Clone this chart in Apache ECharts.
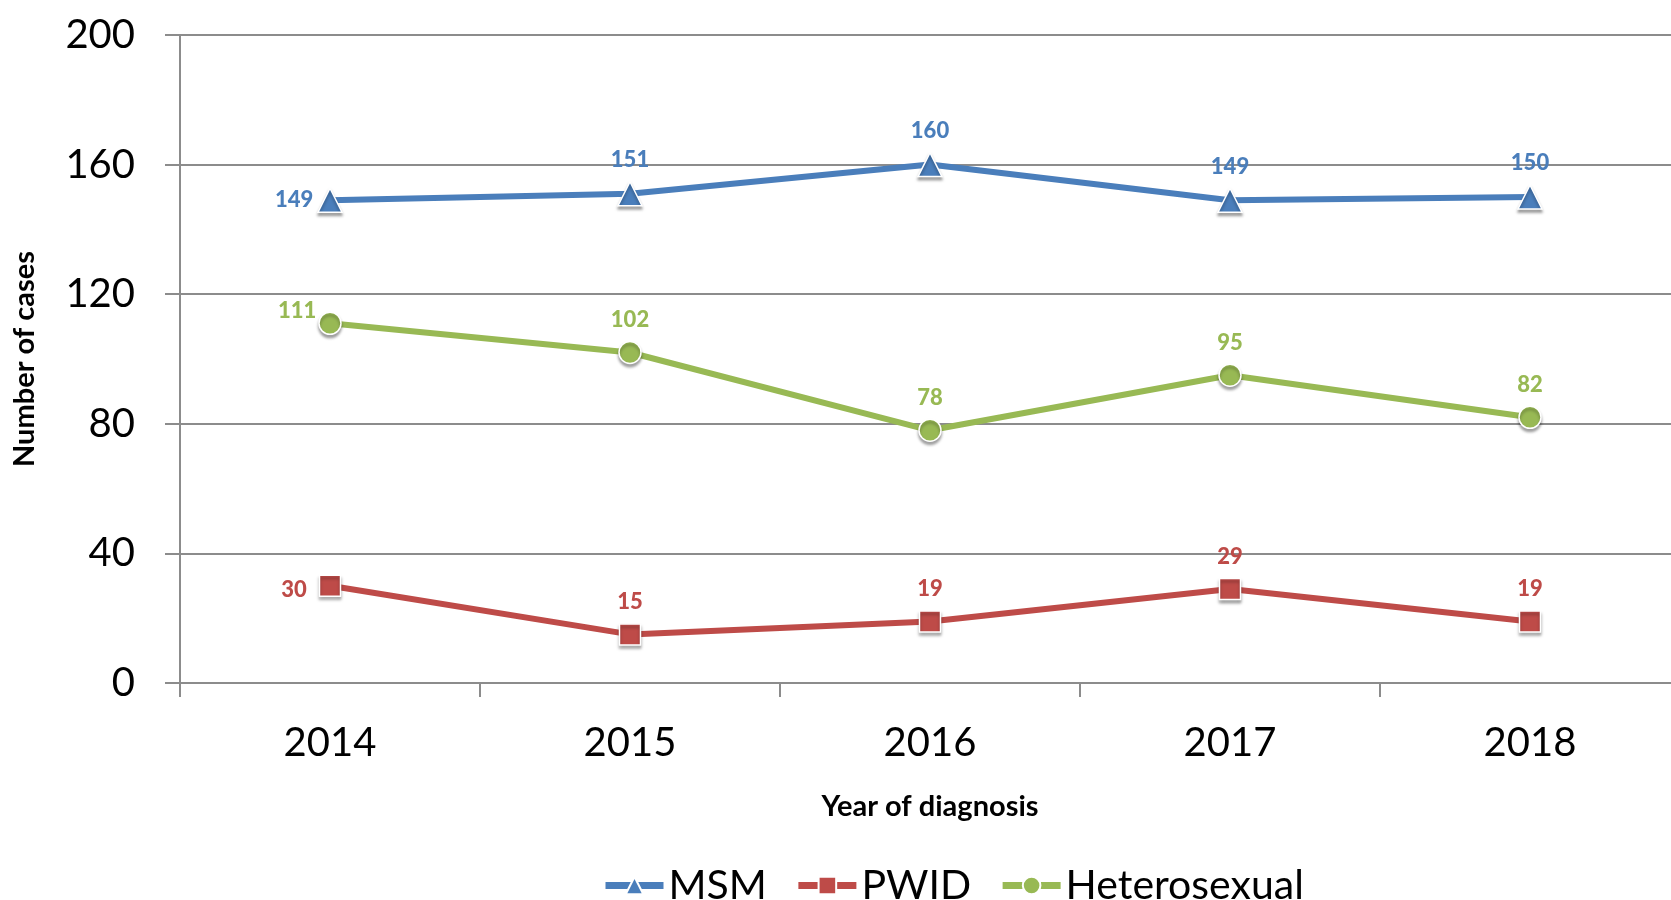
<!DOCTYPE html>
<html>
<head>
<meta charset="utf-8">
<script src="https://cdn.jsdelivr.net/npm/echarts@6/dist/echarts.min.js"></script>
<style>
  html, body { margin: 0; padding: 0; background: #fff; }
  #chart { width: 1671px; height: 900px; }
</style>
</head>
<body>
<div id="chart"></div>
<script>
const years = ['2014', '2015', '2016', '2017', '2018']
const msm = [149, 151, 160, 149, 150]
const pwid = [30, 15, 19, 29, 19]
const hetero = [111, 102, 78, 95, 82]

const font = 'Lato'
const gridColor = '#8c8c8c'

const chart = echarts.init(document.getElementById('chart'))

// marker look shared by all three series
const markerStyle = (color) => ({
  color: color,
  borderColor: '#fff',
  borderWidth: 1.5,
  shadowColor: 'rgba(0,0,0,0.35)',
  shadowBlur: 3,
  shadowOffsetY: 3,
})

const makeSeries = (name, values, color, symbol, symbolSize, firstLabel) => ({
  name: name,
  type: 'line',
  symbol: symbol,
  symbolSize: symbolSize,
  lineStyle: { color: color, width: 6 },
  itemStyle: markerStyle(color),
  label: {
    show: true,
    position: 'top',
    distance: 10,
    color: color,
    fontFamily: font,
    fontWeight: 900,
    fontSize: 22,
  },
  data: values.map((v, i) =>
    i === 0 ? { value: v, label: firstLabel } : v
  ),
  z: 3,
})

const option = {
  animation: false,
  backgroundColor: '#fff',
  // plot area runs past the right edge, as in the original
  grid: { left: 180, width: 1500, top: 35, bottom: 217, outerBoundsMode: 'none' },
  legend: {
    left: 597,
    top: 860,
    itemWidth: 58,
    itemHeight: 22,
    itemGap: 28,
    lineStyle: { width: 7 },
    textStyle: { fontFamily: font, fontSize: 41, color: '#000' },
    data: ['MSM', 'PWID', 'Heterosexual'],
  },
  xAxis: {
    type: 'category',
    data: years,
    boundaryGap: true,
    name: 'Year of diagnosis',
    nameLocation: 'middle',
    nameGap: 109,
    nameTextStyle: { fontFamily: font, fontSize: 29, fontWeight: 'bold', color: '#000' },
    axisLine: { lineStyle: { color: gridColor, width: 2 } },
    axisTick: { show: true, length: 14, lineStyle: { color: gridColor, width: 2 } },
    axisLabel: { fontFamily: font, fontSize: 40, color: '#000', margin: 40 },
  },
  yAxis: {
    type: 'value',
    min: 0,
    max: 200,
    interval: 40,
    name: 'Number of cases',
    nameLocation: 'middle',
    nameGap: 141,
    nameTextStyle: { fontFamily: font, fontSize: 29, fontWeight: 'bold', color: '#000' },
    axisLine: { show: true, lineStyle: { color: gridColor, width: 2 } },
    axisTick: { show: true, length: 15, lineStyle: { color: gridColor, width: 2 } },
    axisLabel: { fontFamily: font, fontSize: 40, color: '#000', margin: 45 },
    splitLine: { lineStyle: { color: gridColor, width: 2 } },
  },
  series: [
    makeSeries('MSM', msm, '#4a7ebb', 'triangle', 24, { position: 'left', distance: 4 }),
    makeSeries('PWID', pwid, '#be4b48', 'rect', 21, { position: 'left', distance: 12, offset: [0, 4] }),
    makeSeries('Heterosexual', hetero, '#98b954', 'circle', 22, { position: 'left', distance: 2, offset: [0, -12] }),
  ],
}

option && chart.setOption(option)
</script>
</body>
</html>
